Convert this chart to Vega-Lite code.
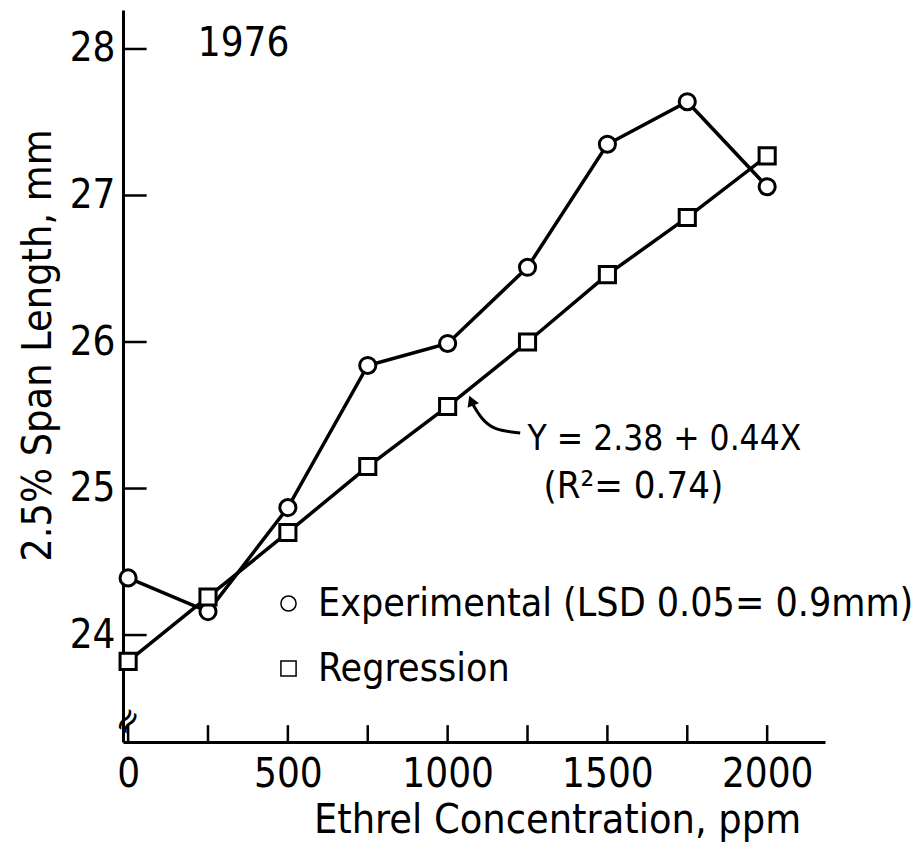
{
  "$schema": "https://vega.github.io/schema/vega-lite/v6.json",
  "width": 702,
  "height": 732,
  "autosize": {"type": "none"},
  "padding": {"left": 123, "top": 10, "right": 94, "bottom": 104},
  "background": "white",
  "config": {
    "font": "DejaVu Sans Condensed",
    "view": {"stroke": null},
    "axis": {
      "domainColor": "black",
      "domainWidth": 3,
      "ticks": false,
      "tickSize": 0,
      "labelColor": "black",
      "titleColor": "black",
      "labelFont": "DejaVu Sans Condensed",
      "titleFont": "DejaVu Sans Condensed",
      "labelFontSize": 40,
      "titleFontSize": 41,
      "titleFontWeight": "normal",
      "grid": false
    }
  },
  "datasets": {
    "main": [
      {"ppm": 0, "length": 24.39, "series": "Experimental (LSD 0.05= 0.9mm)"},
      {"ppm": 250, "length": 24.16, "series": "Experimental (LSD 0.05= 0.9mm)"},
      {"ppm": 500, "length": 24.87, "series": "Experimental (LSD 0.05= 0.9mm)"},
      {"ppm": 750, "length": 25.84, "series": "Experimental (LSD 0.05= 0.9mm)"},
      {"ppm": 1000, "length": 25.99, "series": "Experimental (LSD 0.05= 0.9mm)"},
      {"ppm": 1250, "length": 26.51, "series": "Experimental (LSD 0.05= 0.9mm)"},
      {"ppm": 1500, "length": 27.35, "series": "Experimental (LSD 0.05= 0.9mm)"},
      {"ppm": 1750, "length": 27.64, "series": "Experimental (LSD 0.05= 0.9mm)"},
      {"ppm": 2000, "length": 27.06, "series": "Experimental (LSD 0.05= 0.9mm)"},
      {"ppm": 0, "length": 23.82, "series": "Regression"},
      {"ppm": 250, "length": 24.26, "series": "Regression"},
      {"ppm": 500, "length": 24.70, "series": "Regression"},
      {"ppm": 750, "length": 25.15, "series": "Regression"},
      {"ppm": 1000, "length": 25.56, "series": "Regression"},
      {"ppm": 1250, "length": 26.0, "series": "Regression"},
      {"ppm": 1500, "length": 26.46, "series": "Regression"},
      {"ppm": 1750, "length": 26.85, "series": "Regression"},
      {"ppm": 2000, "length": 27.27, "series": "Regression"}
    ],
    "xticks": [
      {"ppm": 0}, {"ppm": 250}, {"ppm": 500}, {"ppm": 750}, {"ppm": 1000},
      {"ppm": 1250}, {"ppm": 1500}, {"ppm": 1750}, {"ppm": 2000}
    ],
    "yticks": [
      {"length": 24}, {"length": 25}, {"length": 26}, {"length": 27}, {"length": 28}
    ],
    "arrow": [
      {"ppm": 1227, "length": 25.379, "order": 1},
      {"ppm": 1142, "length": 25.399, "order": 2},
      {"ppm": 1102, "length": 25.488, "order": 3},
      {"ppm": 1080, "length": 25.57, "order": 4}
    ],
    "labels": [
      {"ppm": 218, "length": 27.95, "text": "1976", "size": 40},
      {"ppm": 1250, "length": 25.26, "text": "Y = 2.38 + 0.44X", "size": 35},
      {"ppm": 1300, "length": 24.935, "text": "(R²= 0.74)", "size": 38}
    ]
  },
  "layer": [
    {
      "data": {"name": "main"},
      "mark": {"type": "line", "color": "black", "strokeWidth": 3.5},
      "encoding": {
        "x": {
          "field": "ppm", "type": "quantitative",
          "scale": {"domain": [-16, 2181], "nice": false, "zero": false},
          "axis": {
            "values": [0, 500, 1000, 1500, 2000],
            "format": "d",
            "labelPadding": 12,
            "title": "Ethrel Concentration, ppm",
            "titleX": 434,
            "titleY": 90,
            "titleBaseline": "alphabetic",
            "titleAnchor": null
          }
        },
        "y": {
          "field": "length", "type": "quantitative",
          "scale": {"domain": [23.27, 28.266], "nice": false, "zero": false},
          "axis": {
            "values": [24, 25, 26, 27, 28],
            "format": "d",
            "labelPadding": 8,
            "title": "2.5% Span Length, mm",
            "titleX": -73,
            "titleY": 335,
            "titleBaseline": "alphabetic",
            "titleAnchor": null
          }
        },
        "detail": {"field": "series"}
      }
    },
    {
      "data": {"name": "xticks"},
      "mark": {"type": "rule", "color": "black", "strokeWidth": 2.5},
      "encoding": {
        "x": {"field": "ppm", "type": "quantitative"},
        "y": {"datum": 23.27},
        "y2": {"datum": 23.385}
      }
    },
    {
      "data": {"name": "yticks"},
      "mark": {"type": "rule", "color": "black", "strokeWidth": 2.5},
      "encoding": {
        "y": {"field": "length", "type": "quantitative"},
        "x": {"datum": -16},
        "x2": {"datum": 58}
      }
    },
    {
      "data": {"name": "main"},
      "mark": {"type": "point", "filled": true, "fill": "white", "stroke": "black", "strokeWidth": 3, "size": 260, "opacity": 1},
      "encoding": {
        "x": {"field": "ppm", "type": "quantitative"},
        "y": {"field": "length", "type": "quantitative"},
        "shape": {
          "field": "series", "type": "nominal",
          "scale": {"domain": ["Experimental (LSD 0.05= 0.9mm)", "Regression"], "range": ["circle", "square"]},
          "legend": {
            "title": null,
            "orient": "none",
            "legendX": 146,
            "legendY": 574,
            "labelFontSize": 39,
            "labelFont": "DejaVu Sans Condensed",
            "labelColor": "black",
            "labelOffset": 10,
            "rowPadding": 25,
            "symbolSize": 230,
            "labelLimit": 800,
            "encode": {
              "symbols": {
                "update": {
                  "stroke": {"value": "black"},
                  "strokeWidth": {"value": 2.5},
                  "fill": {"value": "white"},
                  "opacity": {"value": 1}
                }
              }
            }
          }
        }
      }
    },
    {
      "data": {"name": "arrow"},
      "mark": {"type": "line", "color": "black", "strokeWidth": 3, "interpolate": "basis"},
      "encoding": {
        "x": {"field": "ppm", "type": "quantitative"},
        "y": {"field": "length", "type": "quantitative"},
        "order": {"field": "order"}
      }
    },
    {
      "data": {"values": [{"ppm": 1074, "length": 25.6}]},
      "mark": {"type": "point", "shape": "triangle-up", "filled": true, "color": "black", "size": 150, "angle": -22, "opacity": 1},
      "encoding": {
        "x": {"field": "ppm", "type": "quantitative"},
        "y": {"field": "length", "type": "quantitative"}
      }
    },
    {
      "data": {"name": "labels"},
      "mark": {"type": "text", "align": "left", "baseline": "alphabetic", "font": "DejaVu Sans Condensed", "color": "black"},
      "encoding": {
        "x": {"field": "ppm", "type": "quantitative"},
        "y": {"field": "length", "type": "quantitative"},
        "text": {"field": "text"},
        "size": {"field": "size", "type": "quantitative", "scale": null}
      }
    },
    {
      "data": {"values": [{"ppm": 0, "length": 23.41, "text": "≈"}]},
      "mark": {"type": "text", "fontSize": 34, "angle": -55, "color": "black", "font": "DejaVu Sans", "baseline": "middle", "align": "center"},
      "encoding": {
        "x": {"field": "ppm", "type": "quantitative"},
        "y": {"field": "length", "type": "quantitative"},
        "text": {"field": "text"}
      }
    }
  ]
}
